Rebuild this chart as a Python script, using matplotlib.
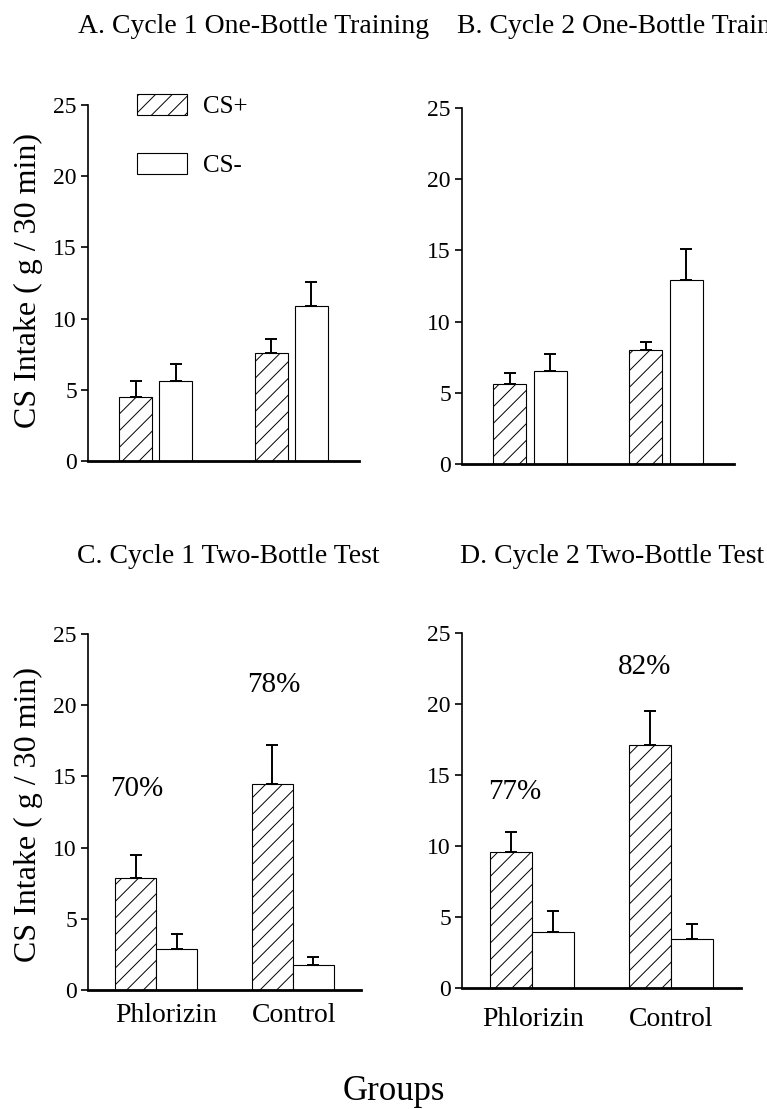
import matplotlib
matplotlib.use('Agg')
import matplotlib.pyplot as plt
from matplotlib.patches import Patch
import numpy as np

plt.rcParams['font.family'] = ['Liberation Serif', 'DejaVu Serif']
plt.rcParams['hatch.linewidth'] = 0.7

groups = ['Phlorizin', 'Control']

# CS intake means and SEM (g / 30 min)
a_csp = [4.5, 7.6]
a_csp_err = [1.1, 0.95]
a_csm = [5.6, 10.9]
a_csm_err = [1.2, 1.7]

b_csp = [5.6, 8.0]
b_csp_err = [0.8, 0.6]
b_csm = [6.5, 12.9]
b_csm_err = [1.2, 2.2]

c_csp = [7.85, 14.5]
c_csp_err = [1.65, 2.7]
c_csm = [2.85, 1.75]
c_csm_err = [1.05, 0.55]

d_csp = [9.55, 17.1]
d_csp_err = [1.45, 2.4]
d_csm = [3.95, 3.45]
d_csm_err = [1.5, 1.05]

c_pref = ['70%', '78%']
d_pref = ['77%', '82%']

W, H = 767, 1109
fig = plt.figure(figsize=(W / 100, H / 100), dpi=100)


def pix_axes(left, right, top, bottom):
    return fig.add_axes([left / W, (H - bottom) / H, (right - left) / W, (bottom - top) / H])


def draw_panel(ax, csp, csp_err, csm, csm_err, width, offset):
    x = np.arange(len(groups))
    ax.bar(x - offset, csp, width, color='white', edgecolor='black', hatch='//', linewidth=0.8, zorder=2)
    ax.bar(x + offset, csm, width, color='white', edgecolor='black', linewidth=0.8, zorder=2)
    ax.errorbar(x - offset, csp, yerr=[np.zeros(len(csp)), csp_err], fmt='none', ecolor='black',
                elinewidth=1.4, capsize=4, capthick=1.4, zorder=3)
    ax.errorbar(x + offset, csm, yerr=[np.zeros(len(csm)), csm_err], fmt='none', ecolor='black',
                elinewidth=1.4, capsize=4, capthick=1.4, zorder=3)
    ax.set_xlim(-0.5, 1.5)
    ax.set_ylim(0, 25)
    ax.set_yticks([0, 5, 10, 15, 20, 25])
    ax.spines['top'].set_visible(False)
    ax.spines['right'].set_visible(False)
    ax.spines['left'].set_linewidth(1.2)
    ax.spines['bottom'].set_linewidth(2.0)
    ax.tick_params(axis='y', direction='out', length=5, width=1.2, pad=3, labelsize=17)
    ax.tick_params(axis='x', length=0, labelsize=20)
    ax.set_xticks([])


ax_a = pix_axes(88, 359, 105, 461)
draw_panel(ax_a, a_csp, a_csp_err, a_csm, a_csm_err, 0.244, 0.148)
ax_b = pix_axes(462, 734, 108, 464)
draw_panel(ax_b, b_csp, b_csp_err, b_csm, b_csm_err, 0.244, 0.148)
ax_c = pix_axes(88, 361, 634, 990)
draw_panel(ax_c, c_csp, c_csp_err, c_csm, c_csm_err, 0.30, 0.15)
ax_d = pix_axes(462, 741, 633, 988)
draw_panel(ax_d, d_csp, d_csp_err, d_csm, d_csm_err, 0.30, 0.15)

# group labels on the bottom panels
ax_c.set_xticks([0.07, 1.01])
ax_c.set_xticklabels(groups)
ax_c.tick_params(axis='x', pad=9)
ax_d.set_xticks([0.01, 1.0])
ax_d.set_xticklabels(groups)
ax_d.tick_params(axis='x', pad=14)

# preference percentages
for i, (t, yv) in enumerate(zip(c_pref, [14.1, 21.4])):
    ax_c.text(i - 0.14, yv, t, ha='center', va='center', fontsize=21)
for i, (t, yv) in enumerate(zip(d_pref, [13.8, 22.6])):
    ax_d.text(i + [-0.12, -0.19][i], yv, t, ha='center', va='center', fontsize=21)

# legend
handles = [Patch(facecolor='white', edgecolor='black', hatch='//', linewidth=0.8, label='CS+'),
           Patch(facecolor='white', edgecolor='black', linewidth=0.8, label='CS-')]
ax_a.legend(handles=handles, loc='upper left', bbox_to_anchor=(0.181, 1.03), frameon=False,
            fontsize=18, handlelength=2.0, handleheight=0.9, labelspacing=1.4,
            handletextpad=0.65, borderpad=0, borderaxespad=0)

# panel titles
fig.text(78 / W, (H - 33) / H, 'A. Cycle 1 One-Bottle Training', fontsize=20, va='baseline', ha='left')
fig.text(457 / W, (H - 33) / H, 'B. Cycle 2 One-Bottle Training', fontsize=20, va='baseline', ha='left')
fig.text(77 / W, (H - 563) / H, 'C. Cycle 1 Two-Bottle Test', fontsize=20, va='baseline', ha='left')
fig.text(460 / W, (H - 563) / H, 'D. Cycle 2 Two-Bottle Test', fontsize=20, va='baseline', ha='left')

# y labels
fig.text(28 / W, (H - 281) / H, 'CS Intake ( g / 30 min)', rotation=90, fontsize=23, ha='center', va='center')
fig.text(28 / W, (H - 814) / H, 'CS Intake ( g / 30 min)', rotation=90, fontsize=23, ha='center', va='center')

fig.text(394 / W, (H - 1100) / H, 'Groups', fontsize=25, ha='center', va='baseline')

plt.savefig('out.png', dpi=100)
